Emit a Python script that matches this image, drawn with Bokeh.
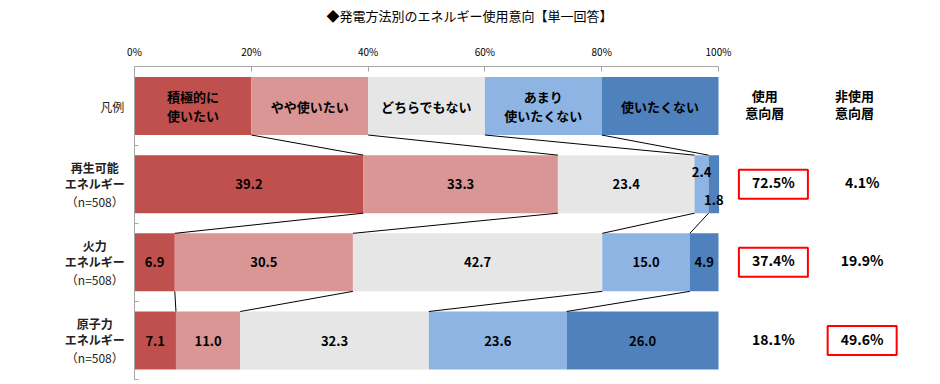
from bokeh.plotting import figure
from bokeh.models import Range1d, LinearAxis, FixedTicker, ColumnDataSource
from bokeh.core.properties import value
from bokeh.embed import file_html
from bokeh.resources import INLINE

# ---------------- data ----------------
title_text = "◆発電方法別のエネルギー使用意向【単一回答】"
legend_label = "凡例"
levels = ["積極的に\n使いたい", "やや使いたい", "どちらでもない", "あまり\n使いたくない", "使いたくない"]
level_colors = ["#C0504D", "#D99694", "#E6E6E6", "#8DB4E2", "#4F81BD"]
legend_shares = [20, 20, 20, 20, 20]
categories = ["再生可能\nエネルギー", "火力\nエネルギー", "原子力\nエネルギー"]
sample_sizes = ["（n=508）", "（n=508）", "（n=508）"]
renewable = [39.2, 33.3, 23.4, 2.4, 1.8]
thermal = [6.9, 30.5, 42.7, 15.0, 4.9]
nuclear = [7.1, 11.0, 32.3, 23.6, 26.0]
summary_headers = ["使用\n意向層", "非使用\n意向層"]
use_share = [72.5, 37.4, 18.1]
nonuse_share = [4.1, 19.9, 49.6]
tick_values = [0, 20, 40, 60, 80, 100]
tick_labels = ["0%", "20%", "40%", "60%", "80%", "100%"]

# ---------------- layout ----------------
W, H = 924, 380
PX_PER_PCT = 5.84
LEFT_PX = 134.0
ROW0_PX = 105.5
ROW_PX = 78.17
BAR_H = 0.742
FONT_NAME = "Noto Sans CJK JP"
FONT = value(FONT_NAME)

p = figure(width=W, height=H, output_backend="svg", toolbar_location=None,
           x_range=Range1d(-LEFT_PX / PX_PER_PCT, (W - LEFT_PX) / PX_PER_PCT),
           y_range=Range1d(start=(H - ROW0_PX) / ROW_PX, end=-ROW0_PX / ROW_PX),
           x_axis_location=None, y_axis_location=None, min_border=0)
p.outline_line_color = None
p.xgrid.visible = False
p.ygrid.visible = False
p.background_fill_color = "white"
p.border_fill_color = "white"

rows = [legend_shares, renewable, thermal, nuclear]

def cumulate(vals):
    out = [0.0]
    for v in vals:
        out.append(out[-1] + v)
    return out

cums = [cumulate(r) for r in rows]

def multiline(xs, ys, texts, spacing, base_offset=0, **kw):
    """Draw multi-line labels as one text glyph per line with pixel offsets."""
    tx, ty, tt, to = [], [], [], []
    for x, y, t in zip(xs, ys, texts):
        lines = t.split("\n")
        n = len(lines)
        for j, ln in enumerate(lines):
            tx.append(x); ty.append(y); tt.append(ln)
            to.append(base_offset + (j - (n - 1) / 2) * spacing)
    p.text(x=tx, y=ty, text=tt, y_offset=to, text_align="center", text_baseline="middle",
           text_font=FONT, **kw)

# bars
bx_l, bx_r, by, bc = [], [], [], []
for i, r in enumerate(rows):
    c = cums[i]
    for k in range(len(r)):
        bx_l.append(c[k]); bx_r.append(c[k + 1]); by.append(i); bc.append(level_colors[k])
p.hbar(y="y", left="l", right="r", height=BAR_H, fill_color="c", line_color=None,
       source=ColumnDataSource(dict(y=by, l=bx_l, r=bx_r, c=bc)))

# connector lines between rows
sx0, sy0, sx1, sy1 = [], [], [], []
for i in range(len(rows) - 1):
    for k in range(1, len(rows[i])):
        sx0.append(cums[i][k]); sy0.append(i + BAR_H / 2)
        sx1.append(cums[i + 1][k]); sy1.append(i + 1 - BAR_H / 2)
p.segment(x0=sx0, y0=sy0, x1=sx1, y1=sy1, line_color="black", line_width=1)

# legend-row labels
lx = [(cums[0][k] + cums[0][k + 1]) / 2 for k in range(len(levels))]
multiline(lx, [0] * len(levels), levels, 19, text_font_style="bold",
          text_font_size="13px", text_color="black")

# value labels
vx, vy, vt, voff = [], [], [], []
for i in range(1, len(rows)):
    small = 0
    for k, v in enumerate(rows[i]):
        vx.append((cums[i][k] + cums[i][k + 1]) / 2)
        vy.append(i)
        vt.append(f"{v:.1f}")
        if v < 3:
            voff.append(-12 if small == 0 else 16)
            small += 1
        else:
            voff.append(0)
p.text(x=vx, y=vy, text=vt, y_offset=voff, text_align="center", text_baseline="middle",
       text_font=FONT, text_font_style="bold", text_font_size="13px", text_color="black")

# row labels
cat_y = list(range(1, len(rows)))
multiline([-6.8] * len(categories), cat_y, categories, 16, base_offset=-9,
          text_font_style="bold", text_font_size="12px", text_color="#222222")
p.text(x=[-6.8] * len(categories), y=cat_y, text=sample_sizes, y_offset=17,
       text_align="center", text_baseline="middle", text_font=FONT,
       text_font_size="12px", text_color="#222222")
p.text(x=[-3.8], y=[0], text=[legend_label], text_align="center", text_baseline="middle",
       text_font=FONT, text_font_size="12px", text_color="#222222")

# summary columns
multiline([107.9, 123.3], [0, 0], summary_headers, 17, base_offset=-2,
          text_font_style="bold", text_font_size="13px", text_color="black")
col_x = [109.4, 124.6]
sum_x, sum_y, sum_t, box_x, box_y = [], [], [], [], []
for i, (u, n) in enumerate(zip(use_share, nonuse_share)):
    sum_x += col_x; sum_y += [i + 1, i + 1]
    sum_t += [f"{u:.1f}%", f"{n:.1f}%"]
    box_x.append(col_x[0] if u >= n else col_x[1]); box_y.append(i + 1)
p.text(x=sum_x, y=sum_y, text=sum_t, y_offset=-2, text_align="center", text_baseline="middle",
       text_font=FONT, text_font_style="bold", text_font_size="14px", text_color="black")
p.rect(x=box_x, y=box_y, width=69, height=29, width_units="screen", height_units="screen",
       fill_color=None, line_color="#FF0000", line_width=2)

# title
p.text(x=[(469 - LEFT_PX) / PX_PER_PCT], y=[(15 - ROW0_PX) / ROW_PX], text=[title_text],
       text_align="center", text_baseline="middle",
       text_font=FONT, text_font_size="13px", text_color="black")

# axes
top = LinearAxis(fixed_location=-0.5, bounds=(0, 100),
                 ticker=FixedTicker(ticks=tick_values, minor_ticks=[]),
                 major_label_overrides={t: l for t, l in zip(tick_values, tick_labels)},
                 major_tick_in=5, major_tick_out=0, minor_tick_in=0, minor_tick_out=0,
                 axis_line_color="#A6A6A6", major_tick_line_color="#A6A6A6",
                 major_label_text_font=FONT_NAME, major_label_text_font_size="10px",
                 major_label_text_color="black", major_label_standoff=8)
p.add_layout(top, "above")
left = LinearAxis(fixed_location=0, bounds=(-0.5, len(rows) - 0.5),
                  ticker=FixedTicker(ticks=[], minor_ticks=[k + 0.5 for k in range(len(rows))]),
                  major_tick_in=0, major_tick_out=0, minor_tick_in=4, minor_tick_out=0,
                  axis_line_color="#A6A6A6", minor_tick_line_color="#A6A6A6",
                  major_label_text_font_size="0px")
p.add_layout(left, "left")

open("out.html", "w").write(file_html(p, INLINE, title="chart"))
